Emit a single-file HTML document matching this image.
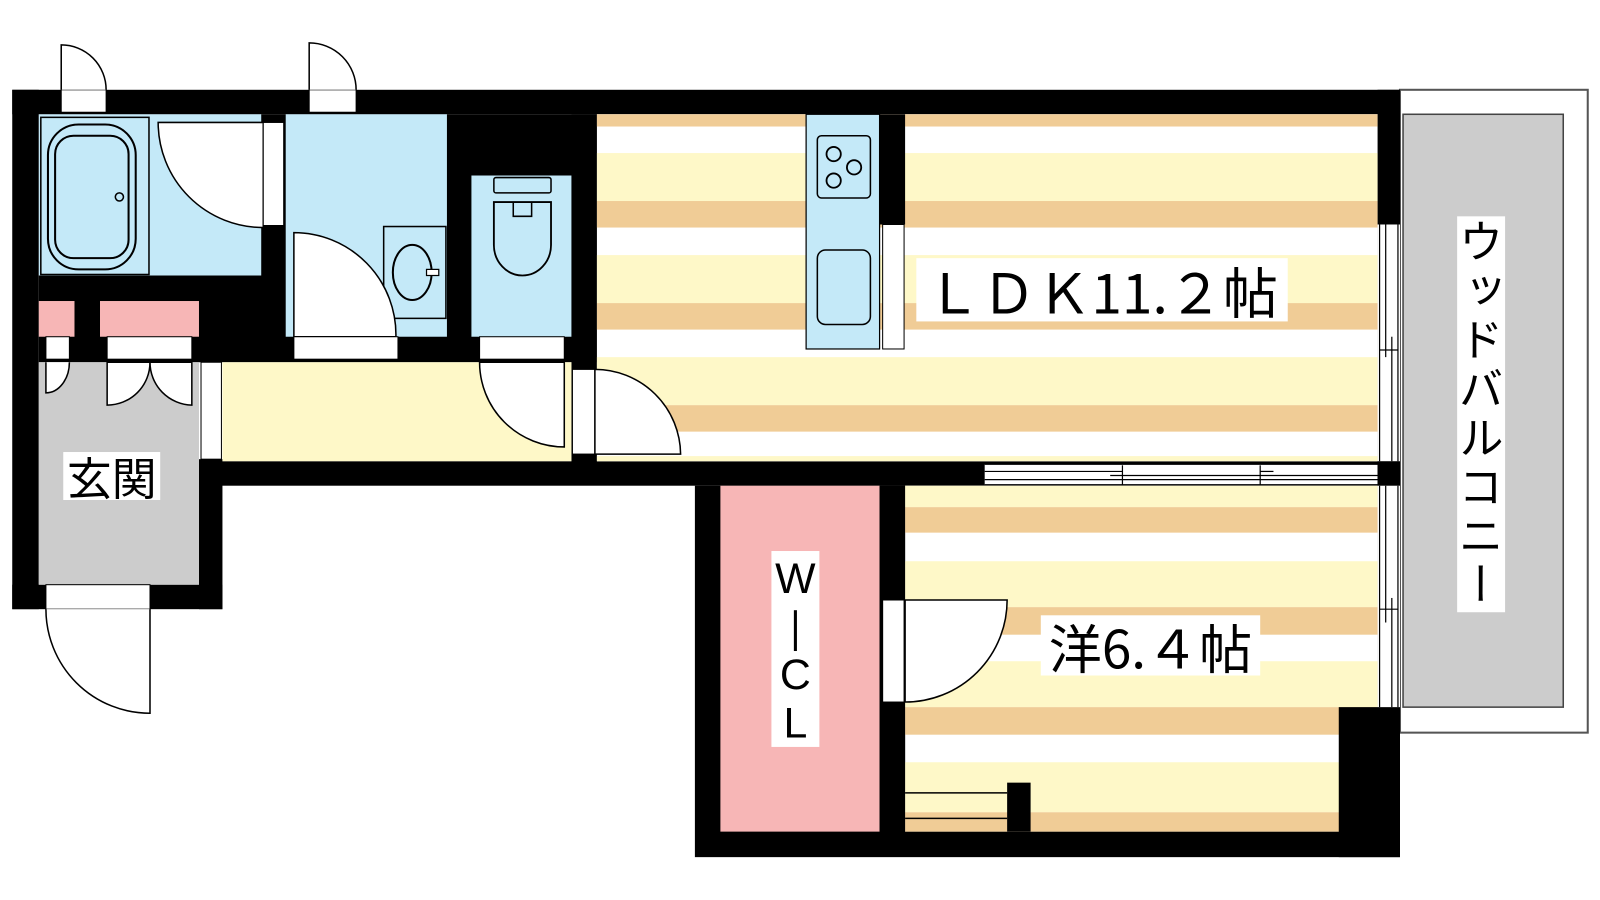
<!DOCTYPE html>
<html><head><meta charset="utf-8"><style>
html,body{margin:0;padding:0;background:#fff;width:1600px;height:900px;overflow:hidden}
#wrap{position:absolute;left:0;top:0;width:1568px;height:882px;transform:scale(1.0204);transform-origin:0 0}
svg{position:absolute;left:0;top:0}
.lbl{position:absolute;background:#fff;color:#000;font-family:"Liberation Sans","Noto Sans CJK JP",sans-serif;line-height:1;white-space:nowrap}
</style></head><body><div id="wrap">
<svg width="1568" height="882" viewBox="0 0 1568 882" xmlns="http://www.w3.org/2000/svg">
<rect x="1372" y="88" width="184" height="630" fill="#fff" stroke="#555" stroke-width="2"/>
<rect x="1375" y="112" width="157" height="581" fill="#ccc" stroke="#444" stroke-width="1.5"/>
<rect x="12" y="88" width="1360" height="24" fill="#000"/>
<rect x="12" y="88" width="26" height="509" fill="#000"/>
<rect x="12" y="573" width="206" height="24" fill="#000"/>
<rect x="195" y="450" width="23" height="147" fill="#000"/>
<rect x="195" y="452" width="1177" height="24" fill="#000"/>
<rect x="1350" y="88" width="22" height="400" fill="#000"/>
<rect x="681" y="476" width="691" height="364" fill="#000"/>
<rect x="38" y="112" width="547" height="243" fill="#000"/>
<rect x="560" y="112" width="25" height="363" fill="#000"/>
<rect x="585" y="112" width="765" height="340" fill="#fff"/>
<g fill="#f0cc96">
<rect x="585" y="112" width="765" height="12"/>
<rect x="585" y="197" width="765" height="26"/>
<rect x="585" y="297" width="765" height="26"/>
<rect x="585" y="397" width="765" height="26"/>
</g>
<g fill="#fef8c8">
<rect x="585" y="150" width="765" height="47"/>
<rect x="585" y="250" width="765" height="47"/>
<rect x="585" y="350" width="765" height="47"/>
<rect x="585" y="447" width="765" height="5"/>
</g>
<rect x="887" y="476" width="463" height="339" fill="#fff"/>
<g fill="#fef8c8">
<rect x="887" y="476" width="463" height="21"/>
<rect x="887" y="550" width="463" height="45"/>
<rect x="887" y="648" width="463" height="45"/>
<rect x="887" y="747" width="463" height="49"/>
</g>
<g fill="#f0cc96">
<rect x="887" y="497" width="463" height="25"/>
<rect x="887" y="595" width="463" height="27"/>
<rect x="887" y="693" width="463" height="27"/>
<rect x="887" y="796" width="463" height="19"/>
</g>
<rect x="1312" y="693" width="60" height="147" fill="#000"/>
<rect x="706" y="476" width="156" height="339" fill="#f7b6b6"/>
<rect x="862" y="476" width="25" height="339" fill="#000"/>
<rect x="987" y="767" width="23" height="48" fill="#000"/>
<line x1="887" y1="777" x2="987" y2="777" stroke="#000" stroke-width="1.5"/>
<line x1="887" y1="802" x2="987" y2="802" stroke="#000" stroke-width="1.5"/>
<rect x="38" y="112" width="218" height="158" fill="#c4e9f8"/>
<rect x="40" y="115" width="106" height="154" fill="none" stroke="#000" stroke-width="1.5"/>
<rect x="47" y="122" width="86" height="142" rx="30" fill="none" stroke="#000" stroke-width="2"/>
<rect x="54" y="133" width="72" height="120" rx="18" fill="none" stroke="#000" stroke-width="2"/>
<circle cx="117" cy="193" r="4" fill="none" stroke="#000" stroke-width="1.5"/>
<path d="M155 120 L258 120 L258 223 A103 103 0 0 1 155 120 Z" fill="#fff" stroke="#000" stroke-width="1.5"/>
<rect x="258" y="120" width="20" height="101" fill="#fff" stroke="#000" stroke-width="1"/>
<rect x="280" y="112" width="158" height="218" fill="#c4e9f8"/>
<rect x="376" y="222" width="61" height="90" fill="none" stroke="#000" stroke-width="1.5"/>
<ellipse cx="404" cy="267" rx="19" ry="27" fill="none" stroke="#000" stroke-width="2"/>
<rect x="418" y="264" width="12" height="6" fill="#fff" stroke="#000" stroke-width="1.2"/>
<path d="M288 228 A100 100 0 0 1 388 330 L288 330 Z" fill="#fff" stroke="#000" stroke-width="1.5"/>
<rect x="288" y="330" width="102" height="22" fill="#fff" stroke="#000" stroke-width="1"/>
<rect x="462" y="172" width="98" height="158" fill="#c4e9f8"/>
<rect x="484" y="174" width="56" height="15" rx="2" fill="none" stroke="#000" stroke-width="1.5"/>
<path d="M484 198 L540 198 L540 240 A28 30 0 0 1 484 240 Z" fill="none" stroke="#000" stroke-width="1.8"/>
<path d="M503 198 L503 212 L521 212 L521 198" fill="none" stroke="#000" stroke-width="1.5"/>
<rect x="470" y="330" width="83" height="22" fill="#fff" stroke="#000" stroke-width="1"/>
<rect x="38" y="295" width="35" height="35" fill="#f7b6b6"/>
<rect x="98" y="295" width="97" height="35" fill="#f7b6b6"/>
<rect x="45" y="330" width="23" height="22" fill="#fff" stroke="#000" stroke-width="1"/>
<rect x="105" y="330" width="83" height="22" fill="#fff" stroke="#000" stroke-width="1"/>
<rect x="38" y="355" width="157" height="218" fill="#ccc"/>
<path d="M45 355 L45 385 A23 30 0 0 0 68 355" fill="#fff" stroke="#000" stroke-width="1.5"/>
<path d="M105 355 L105 397 A42 42 0 0 0 147 355 Z" fill="#fff" stroke="#000" stroke-width="1.5"/>
<path d="M188 355 L188 397 A42 42 0 0 1 147 355 Z" fill="#fff" stroke="#000" stroke-width="1.5"/>
<rect x="45" y="573" width="102" height="24" fill="#fff" stroke="#000" stroke-width="1"/>
<path d="M45 597 A102 102 0 0 0 147 699 L147 597" fill="#fff" stroke="#000" stroke-width="1.5"/>
<rect x="218" y="355" width="342" height="97" fill="#fef8c8"/>
<rect x="197" y="355" width="20" height="95" fill="#fff" stroke="#000" stroke-width="1"/>
<path d="M470 355 A83 83 0 0 0 553 438 L553 355 Z" fill="#fff" stroke="#000" stroke-width="1.5"/>
<rect x="561" y="362" width="22" height="83" fill="#fff" stroke="#000" stroke-width="1"/>
<path d="M583 362 A84 84 0 0 1 667 445 L583 445 Z" fill="#fff" stroke="#000" stroke-width="1.5"/>
<rect x="790" y="112" width="72" height="230" fill="#c4e9f8" stroke="#000" stroke-width="1.2"/>
<rect x="862" y="112" width="25" height="108" fill="#000"/>
<rect x="865" y="220" width="21" height="122" fill="#fff" stroke="#000" stroke-width="1"/>
<rect x="801" y="133" width="52" height="61" rx="4" fill="none" stroke="#000" stroke-width="1.5"/>
<g fill="none" stroke="#000" stroke-width="1.8">
<circle cx="817" cy="151" r="7"/><circle cx="837" cy="164" r="7"/><circle cx="817" cy="177" r="7"/>
</g>
<rect x="801" y="245" width="52" height="73" rx="8" fill="none" stroke="#000" stroke-width="1.5"/>
<rect x="865" y="588" width="21" height="100" fill="#fff" stroke="#000" stroke-width="1"/>
<path d="M887 588 L987 588 A100 100 0 0 1 887 688 Z" fill="#fff" stroke="#000" stroke-width="1.5"/>
<rect x="60" y="88" width="44" height="22" fill="#fff" stroke="#000" stroke-width="1"/>
<path d="M60 88 L60 44 A44 44 0 0 1 104 88" fill="#fff" stroke="#000" stroke-width="1.5"/>
<rect x="303" y="88" width="46" height="22" fill="#fff" stroke="#000" stroke-width="1"/>
<path d="M303 88 L303 42 A46 46 0 0 1 349 88" fill="#fff" stroke="#000" stroke-width="1.5"/>
<rect x="965" y="455" width="385" height="20" fill="#fff"/>
<g stroke="#000" stroke-width="1.2">
<line x1="965" y1="455" x2="1350" y2="455"/><line x1="965" y1="475" x2="1350" y2="475"/>
<line x1="965" y1="462" x2="1100" y2="462"/><line x1="1088" y1="466" x2="1350" y2="466"/>
<line x1="1100" y1="456" x2="1100" y2="475"/><line x1="1235" y1="456" x2="1235" y2="475"/>
<line x1="1235" y1="462" x2="1248" y2="462"/><line x1="965" y1="470" x2="1350" y2="470"/>
</g>
<rect x="1350" y="452" width="22" height="24" fill="#000"/>
<rect x="1350" y="220" width="22" height="232" fill="#fff"/>
<rect x="1350" y="476" width="22" height="217" fill="#fff"/>
<g stroke="#000" stroke-width="1.2">
<line x1="1352" y1="220" x2="1352" y2="452"/><line x1="1370" y1="220" x2="1370" y2="452"/>
<line x1="1358" y1="220" x2="1358" y2="350"/><line x1="1364" y1="330" x2="1364" y2="452"/>
<line x1="1352" y1="343" x2="1370" y2="343"/>
<line x1="1352" y1="476" x2="1352" y2="693"/><line x1="1370" y1="476" x2="1370" y2="693"/>
<line x1="1358" y1="476" x2="1358" y2="610"/><line x1="1364" y1="586" x2="1364" y2="693"/>
<line x1="1352" y1="597" x2="1370" y2="597"/>
</g>
</svg>
<div class="lbl" style="left:898px;top:253px;width:364px;height:62px;font-size:54px;line-height:62px;text-align:center;font-family:'Liberation Sans Narrow','Noto Sans CJK JP',sans-serif">ＬＤＫ11.２帖</div>
<div class="lbl" style="left:1020px;top:603px;width:215px;height:59px;font-size:52px;line-height:59px;text-align:center;font-family:'Liberation Sans Narrow','Noto Sans CJK JP',sans-serif">洋6.４帖</div>
<div class="lbl" style="left:62px;top:443px;width:95px;height:47px;font-size:44px;line-height:47px;text-align:center;font-family:'Noto Sans CJK JP',sans-serif">玄関</div>
<div class="lbl" style="left:1428px;top:212px;width:47px;height:388px;font-size:44px;font-family:'Noto Sans CJK JP',sans-serif;writing-mode:vertical-rl;text-align:center;display:flex;align-items:center;justify-content:center;letter-spacing:4px">ウッドバルコニー</div>
<div class="lbl" style="left:756px;top:540px;width:47px;height:192px;font-size:42px">
<div style="position:absolute;left:0;width:47px;top:6px;text-align:center">W</div>
<div style="position:absolute;left:22px;top:58px;width:3px;height:40px;background:#000"></div>
<div style="position:absolute;left:0;width:47px;top:100px;text-align:center">C</div>
<div style="position:absolute;left:0;width:47px;top:148px;text-align:center">L</div>
</div>
</div></body></html>
